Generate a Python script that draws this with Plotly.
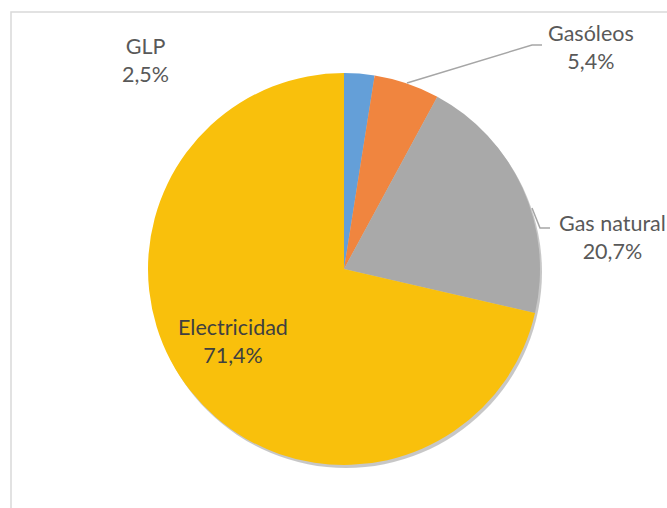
import plotly.graph_objects as go

categories = ["GLP", "Gasóleos", "Gas natural", "Electricidad"]
values = [2.5, 5.4, 20.7, 71.4]
colors = ["#649FD8", "#F0853F", "#A9A9A9", "#F9C00C"]
label_text = [f"{c}<br>{str(v).replace('.', ',')}%" for c, v in zip(categories, values)]

W, H = 667, 508
cx, cy, r = 344, 269, 196

def px(x):
    return x / W

def py(y):
    return 1 - y / H

fig = go.Figure()

# soft shadow
fig.add_trace(go.Pie(
    values=[sum(values)], marker=dict(colors=["rgba(0,0,0,0.22)"], line=dict(width=0)),
    textinfo="none", hoverinfo="skip", sort=False, showlegend=False,
    domain=dict(x=[px(cx - r + 2), px(cx + r + 2)], y=[py(cy + r + 3), py(cy - r + 3)]),
))

fig.add_trace(go.Pie(
    labels=categories, values=values, sort=False, direction="clockwise", rotation=0,
    marker=dict(colors=colors, line=dict(width=0)),
    textinfo="none", showlegend=False,
    domain=dict(x=[px(cx - r), px(cx + r)], y=[py(cy + r), py(cy - r)]),
))

font = dict(family="Lato, Liberation Sans, sans-serif", size=21.5, color="#595959")
label_pos = [(145, 60), (591, 47), (612, 237), (233, 341)]
for (x, y), t, i in zip(label_pos, label_text, range(4)):
    f = dict(font)
    if i == 3:
        f["color"] = "#404040"
    fig.add_annotation(x=px(x), y=py(y), xref="paper", yref="paper", text=t,
                       showarrow=False, align="center", font=f,
                       xanchor="center", yanchor="middle")

# leader lines
line = dict(color="#A6A6A6", width=1.5)
for pts in [[(407, 83), (532, 45), (542, 45)], [(532, 208), (540, 228), (550, 228)]]:
    path = "M " + " L ".join(f"{px(a)},{py(b)}" for a, b in pts)
    fig.add_shape(type="path", path=path, xref="paper", yref="paper", line=line)

# chart frame
fig.add_shape(type="rect", x0=px(11), x1=px(680), y0=py(520), y1=py(12),
              xref="paper", yref="paper", line=dict(color="#D9D9D9", width=1.5))

fig.update_layout(width=W, height=H, margin=dict(l=0, r=0, t=0, b=0),
                  paper_bgcolor="white", plot_bgcolor="white")
fig.write_html("out.html", config={"displayModeBar": False})

with open("out.html", encoding="utf-8") as fh:
    html = fh.read()
html = html.replace("<body>", '<body style="margin:0;overflow:hidden">', 1)
with open("out.html", "w", encoding="utf-8") as fh:
    fh.write(html)
